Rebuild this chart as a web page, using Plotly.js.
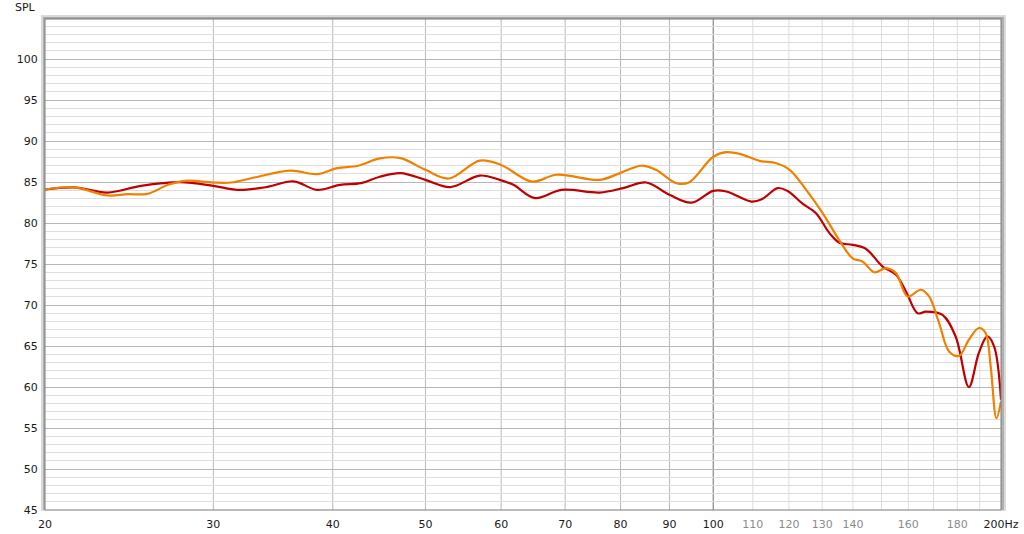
<!DOCTYPE html>
<html>
<head>
<meta charset="utf-8">
<script src="https://cdn.plot.ly/plotly-3.0.1.min.js"></script>
<style>
html,body{margin:0;padding:0;background:#fff;}
#chart{width:1024px;height:534px;}
</style>
</head>
<body>
<div id="chart"></div>
<script>
// Series 1 (dark red)
const redFreq = [20,21.45,23.25,25.2,27.7,30,31.8,34.1,36.4,38.5,40.7,42.8,44.8,47.1,50,53.1,57.0,59.8,61.8,65.1,69.4,76.1,80.5,85.1,90.0,94.9,100,103.2,109.6,112.4,116.8,119.5,124.1,128.1,132.3,135.5,139.9,144.4,150.4,155.3,159.1,163.6,166.9,173.7,179.3,185.1,189.6,193.5,196.7,200];
const redSPL  = [84.1,84.35,83.73,84.55,85.0,84.55,84.06,84.4,85.1,84.06,84.67,84.87,85.65,86.1,85.28,84.4,85.8,85.28,84.67,83.05,84.06,83.73,84.27,84.95,83.45,82.5,83.94,83.86,82.63,82.9,84.27,83.94,82.35,81.2,78.78,77.6,77.35,76.87,74.7,73.7,71.66,69.0,69.2,68.8,66.17,60.0,64.15,66.17,64.95,58.45];
// Series 2 (orange)
const orangeFreq = [20,21.45,23.25,24.4,25.6,26.9,28.0,30,31.3,33.1,36.1,38.5,40.4,42.5,44.8,47.1,50,52.9,57.0,60.0,64.6,68.6,76.1,79.9,84.1,87.1,91.5,94.3,100,103.2,106.6,111.8,116.4,120.2,125.1,130.2,135.5,139.9,143.3,147.4,151.6,155.3,159.7,164.9,168.2,172.3,176.5,180.8,185.1,189.6,192.7,195.1,197.8,200];
const orangeSPL  = [84.1,84.35,83.37,83.53,83.57,84.67,85.16,84.95,84.95,85.56,86.4,85.98,86.7,87.0,87.9,87.93,86.5,85.44,87.63,87.1,85.07,85.9,85.28,86.1,87.0,86.5,84.87,84.95,88.1,88.66,88.45,87.6,87.3,86.5,84.06,81.2,77.9,75.7,75.3,74.0,74.5,73.9,71.05,71.87,71.05,67.8,64.34,63.8,65.77,67.2,66.6,62.5,56.2,58.25];

// Axis ticks
const xTickVals = [20,30,40,50,60,70,80,90,100,110,120,130,140,160,180,200];
const xTickLabels = ['20','30','40','50','60','70','80','90','100','110','120','130','140','160','180','200Hz'];
const xGrayLabels = [110,120,130,140,160,180];
const xGridMajor = [30,40,50,60,70,80,90];
const xGridDecade = [100];
const xGridMinor = [110,120,130,140,150,160,170,180,190];
const yTickVals = [45,50,55,60,65,70,75,80,85,90,95,100];

const tickText = xTickVals.map((v,i) => xGrayLabels.includes(v)
  ? '<span style="color:#8c8c8c">' + xTickLabels[i] + '</span>'
  : xTickLabels[i]);

const traces = [
  {x: redFreq, y: redSPL, type: 'scatter', mode: 'lines',
   line: {color: '#c00000', width: 2.2, shape: 'spline', smoothing: 1}, hoverinfo: 'skip'},
  {x: orangeFreq, y: orangeSPL, type: 'scatter', mode: 'lines',
   line: {color: '#f08000', width: 2.2, shape: 'spline', smoothing: 1}, hoverinfo: 'skip'}
];

const vline = (f, color) => ({type: 'line', xref: 'x', yref: 'paper', x0: f, x1: f, y0: 0, y1: 1,
  line: {color: color, width: 1}, layer: 'below'});

const shapes = [];
xGridMinor.forEach(f => shapes.push(vline(f, '#dcdcdc')));
xGridMajor.forEach(f => shapes.push(vline(f, '#b8b8b8')));
xGridDecade.forEach(f => shapes.push(vline(f, '#707070')));
// frame shadow bands (outside the plot area only)
const pw = 956, ph = 491;
const band = (x0, x1, y0, y1, c) => ({type: 'rect', xref: 'paper', yref: 'paper', x0, x1, y0, y1,
  fillcolor: c, line: {width: 0}, layer: 'above'});
shapes.push(band(-4/pw, 0, -1/ph, 1 + 4/ph, '#dadada'));
shapes.push(band(-2/pw, 0, 0, 1 + 2/ph, '#b0b0b0'));
shapes.push(band(1, 1 + 5/pw, -1/ph, 1 + 4/ph, '#dadada'));
shapes.push(band(1, 1 + 3/pw, 0, 1 + 2/ph, '#b0b0b0'));
shapes.push(band(-4/pw, 1 + 5/pw, 1, 1 + 4/ph, '#dadada'));
shapes.push(band(-2/pw, 1 + 3/pw, 1, 1 + 2/ph, '#a8a8a8'));
shapes.push({type: 'rect', xref: 'paper', yref: 'paper', x0: 0, x1: 1, y0: 0, y1: 1,
  fillcolor: 'rgba(0,0,0,0)', line: {color: '#7a7a7a', width: 1}, layer: 'above'});

const layout = {
  width: 1024, height: 534,
  margin: {l: 45, r: 23, t: 19, b: 24},
  paper_bgcolor: '#ffffff', plot_bgcolor: '#ffffff',
  showlegend: false,
  font: {family: 'DejaVu Sans, sans-serif', size: 11, color: '#1a1a1a'},
  xaxis: {
    type: 'log', range: [Math.log10(20), Math.log10(200)],
    tickvals: xTickVals, ticktext: tickText,
    showgrid: false, zeroline: false, showline: false,
    ticks: 'outside', ticklen: 4, tickcolor: 'rgba(0,0,0,0)',
    tickfont: {family: 'DejaVu Sans, sans-serif', size: 11, color: '#1a1a1a'}
  },
  yaxis: {
    range: [45, 104.9], tickvals: yTickVals,
    showgrid: true, gridcolor: '#b8b8b8', gridwidth: 1,
    minor: {dtick: 1, tick0: 45, showgrid: true, gridcolor: '#dedede', gridwidth: 1},
    zeroline: false, showline: false,
    ticks: 'outside', ticklen: 4, tickcolor: 'rgba(0,0,0,0)',
    tickfont: {family: 'DejaVu Sans, sans-serif', size: 11, color: '#1a1a1a'}
  },
  shapes: shapes,
  annotations: [{
    text: 'SPL', xref: 'paper', yref: 'paper', x: -7/pw, y: 1, xanchor: 'right', yanchor: 'bottom',
    yshift: 3, showarrow: false, font: {family: 'DejaVu Sans, sans-serif', size: 11, color: '#1a1a1a'}
  }]
};

Plotly.newPlot('chart', traces, layout, {displayModeBar: false, staticPlot: true});
</script>
</body>
</html>
